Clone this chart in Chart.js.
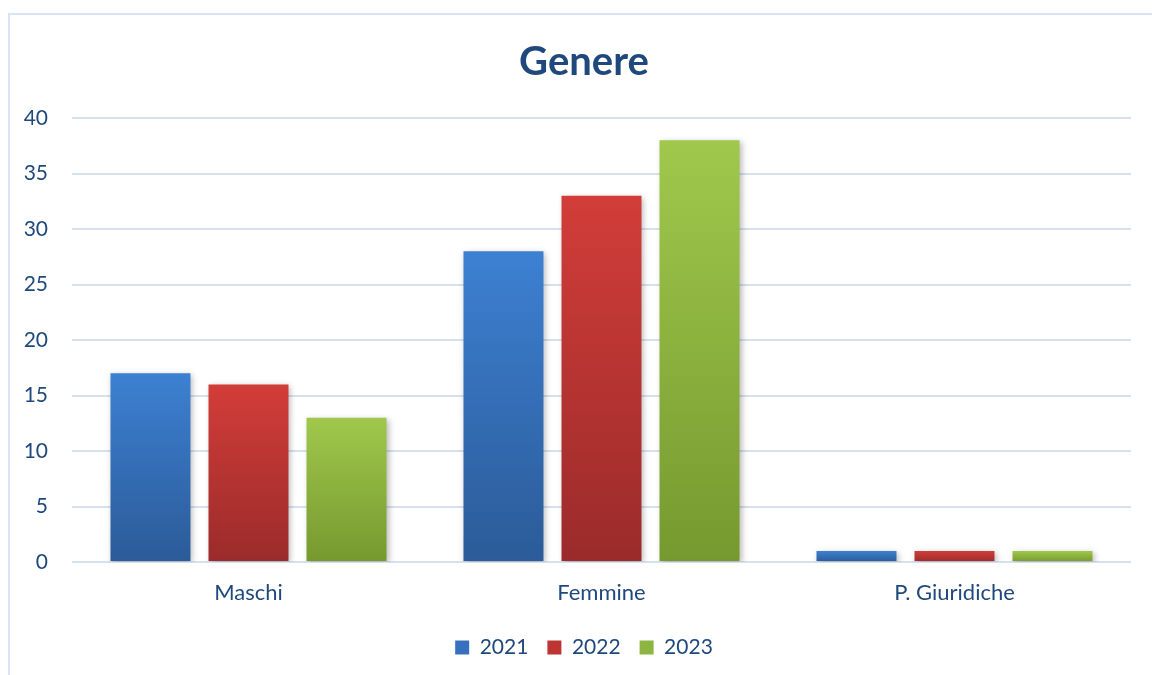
<!DOCTYPE html>
<html>
<head>
<meta charset="utf-8">
<script src="https://cdn.jsdelivr.net/npm/chart.js@4"></script>
<style>
  html, body { margin: 0; padding: 0; background: #ffffff; overflow: hidden; }
  body { position: relative; width: 1152px; height: 675px; overflow: hidden; }
  .frame {
    position: absolute;
    left: 8px;
    top: 13px;
    width: 1200px;
    height: 700px;
    border: 2px solid #d8e4f3;
    box-sizing: border-box;
  }
  #chart { position: absolute; left: 0; top: 0; }
</style>
</head>
<body>
<div class="frame"></div>
<!-- canvas is a bit wider than the window, the office frame runs off the right edge -->
<canvas id="chart" width="1168" height="675"></canvas>
<script>
// Data
const categories = ['Maschi', 'Femmine', 'P. Giuridiche'];
const seriesLabels = ['2021', '2022', '2023'];
const values2021 = [17, 28, 1];
const values2022 = [16, 33, 1];
const values2023 = [13, 38, 1];
const yMin = 0;
const yMax = 40;
const yStep = 5;

// top / bottom gradient colours per series
const topColors = ['#3d80d2', '#d23d39', '#a0c84c'];
const bottomColors = ['#2b5b98', '#9a2b2a', '#76992f'];
const legendColors = ['#3670bf', '#bd3533', '#8db541'];

const textColor = '#1f497d';
const gridColor = '#d6e1ef';

function barGradient(context, i) {
  const chart = context.chart;
  const { ctx, chartArea, scales } = chart;
  if (!chartArea || context.type !== 'data') return legendColors[i];
  const yTop = scales.y.getPixelForValue(context.raw);
  const yBase = scales.y.getPixelForValue(0);
  const g = ctx.createLinearGradient(0, yTop, 0, yBase);
  g.addColorStop(0, topColors[i]);
  g.addColorStop(1, bottomColors[i]);
  return g;
}

// soft drop shadow behind the bars, like the office chart
const barShadow = {
  id: 'barShadow',
  beforeDatasetsDraw(chart) {
    const ctx = chart.ctx;
    ctx.save();
    ctx.shadowColor = 'rgba(0, 0, 0, 0.28)';
    ctx.shadowBlur = 6;
    ctx.shadowOffsetX = 2;
    ctx.shadowOffsetY = 2;
  },
  afterDatasetsDraw(chart) {
    chart.ctx.restore();
  }
};

document.addEventListener('DOMContentLoaded', () => {
  const seriesValues = [values2021, values2022, values2023];

  const datasets = seriesLabels.map((label, i) => ({
    label: label,
    data: seriesValues[i],
    backgroundColor: (context) => barGradient(context, i),
    borderWidth: 0,
    categoryPercentage: 0.833,
    barPercentage: 0.816
  }));

  const ctx = document.getElementById('chart').getContext('2d');

  new Chart(ctx, {
    type: 'bar',
    data: {
      labels: categories,
      datasets: datasets
    },
    plugins: [barShadow],
    options: {
      responsive: false,
      animation: false,
      devicePixelRatio: 1,
      layout: {
        padding: { left: 0, right: 0, top: 0, bottom: 7 }
      },
      plugins: {
        title: {
          display: true,
          text: 'Genere',
          color: textColor,
          font: { family: 'Lato', size: 40, weight: 'bold' },
          padding: { top: 38, bottom: 32 }
        },
        legend: {
          position: 'bottom',
          labels: {
            color: textColor,
            font: { family: 'Lato', size: 21 },
            boxWidth: 14,
            boxHeight: 14,
            padding: 19,
            generateLabels: (chart) => chart.data.datasets.map((ds, i) => ({
              text: ds.label,
              fillStyle: legendColors[i],
              strokeStyle: legendColors[i],
              lineWidth: 0,
              fontColor: textColor,
              hidden: false,
              datasetIndex: i
            }))
          }
        },
        tooltip: { enabled: false }
      },
      scales: {
        x: {
          grid: { display: false, drawTicks: false },
          border: { display: false },
          ticks: {
            color: textColor,
            font: { family: 'Lato', size: 22 },
            padding: 18
          },
          afterFit: (scale) => { scale.height = 56; }
        },
        y: {
          min: yMin,
          max: yMax,
          ticks: {
            stepSize: yStep,
            color: textColor,
            font: { family: 'Lato', size: 21 },
            padding: 24
          },
          grid: { color: gridColor, lineWidth: 2, drawTicks: false },
          border: { display: false },
          afterFit: (scale) => { scale.width = 72; }
        },
        // empty spacer on the right so the plot ends where the reference does
        spacer: {
          type: 'linear',
          position: 'right',
          min: 0,
          max: 1,
          grid: { display: false, drawTicks: false },
          border: { display: false },
          ticks: { display: false },
          afterFit: (scale) => { scale.width = 37; }
        }
      }
    }
  });
});
</script>
</body>
</html>
